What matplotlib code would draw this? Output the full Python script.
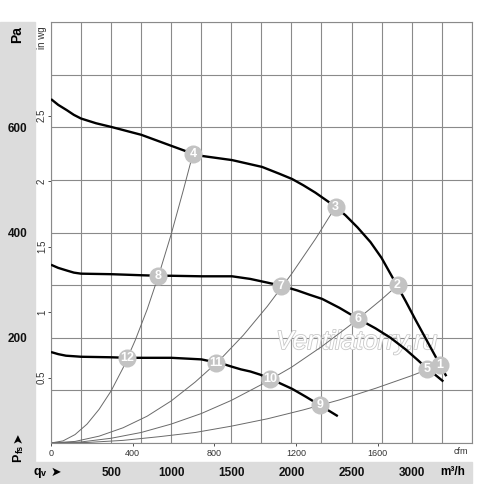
import matplotlib.pyplot as plt
import matplotlib.patheffects as pe
from matplotlib.patches import Rectangle

plt.rcParams["font.family"] = ["Liberation Sans", "DejaVu Sans"]

# fan curves: air flow in m3/h, static pressure in Pa
q_high = [0, 60, 131, 190, 250, 375, 502, 752, 1002, 1181, 1252, 1506, 1756, 1900, 2006,
          2100, 2200, 2300, 2367, 2450, 2550, 2658, 2750, 2875, 2950, 3033, 3100, 3200, 3289]
p_high = [654, 643, 633, 624, 617, 608, 601, 586, 565, 550, 546, 538, 525, 512, 502,
          490, 476, 460, 449, 433, 410, 382, 352, 301, 270, 234, 206, 164, 127]

q_mid = [0, 60, 131, 190, 250, 502, 752, 894, 1002, 1252, 1506, 1658, 1800, 1917, 2050,
         2150, 2256, 2400, 2556, 2700, 2825, 2950, 3050, 3131, 3200, 3264]
p_mid = [339, 333, 328, 324, 322, 321, 319, 318, 318, 317, 317, 312, 305, 299, 290,
         282, 274, 257, 236, 218, 200, 178, 158, 141, 129, 117]

q_low = [0, 60, 125, 190, 250, 502, 636, 1002, 1252, 1375, 1450, 1506, 1580, 1658, 1740,
         1825, 1920, 2006, 2120, 2236, 2386]
p_low = [173, 169, 166, 165, 164, 163, 162, 162, 159, 153, 149, 145, 140, 136, 130,
         122, 112, 103, 88, 72, 51]

# system curves (thin lines from the origin)
q_sys1 = [0, 100, 200, 300, 400, 500, 600, 700, 800, 900, 1000, 1100, 1181]
p_sys1 = [0, 4, 16, 36, 64, 99, 143, 195, 254, 322, 397, 480, 550]

q_sys2 = [0, 200, 400, 600, 800, 1000, 1200, 1400, 1600, 1800, 2000, 2200, 2367]
p_sys2 = [0, 3, 13, 29, 51, 80, 116, 157, 205, 260, 321, 388, 449]

q_sys3 = [0, 250, 500, 750, 1000, 1250, 1500, 1750, 2000, 2250, 2500, 2750, 2883]
p_sys3 = [0, 2, 9, 20, 36, 56, 81, 111, 144, 183, 226, 273, 300]

q_sys4 = [0, 300, 600, 900, 1200, 1500, 1800, 2100, 2400, 2700, 3000, 3236]
p_sys4 = [0, 1, 5, 12, 20, 32, 46, 63, 82, 104, 128, 149]

# operating points
pt_labels = ["1", "2", "3", "4", "5", "6", "7", "8", "9", "10", "11", "12"]
pt_q = [3236, 2883, 2367, 1181, 3131, 2556, 1917, 894, 2236, 1825, 1375, 636]
pt_p = [149, 300, 449, 550, 141, 236, 299, 318, 72, 122, 153, 162]

m3h_ticks = list(range(0, 3501, 250))
m3h_labels = ["", "", "500", "", "1000", "", "1500", "", "2000", "", "2500", "", "3000", "", ""]
pa_ticks = list(range(0, 801, 100))
pa_labels = ["", "", "200", "", "400", "", "600", "", ""]
cfm_ticks = [0, 400, 800, 1200, 1600]
inwg_ticks = [0.5, 1, 1.5, 2, 2.5]
inwg_labels = ["0.5", "1", "1.5", "2", "2.5"]

W, H = 500, 484


def fx(px):
    return px / W


def fy(py):
    return 1 - py / H


fig = plt.figure(figsize=(5, 4.84), dpi=100)
panel = "#dcdcdc"
# gray panels go under everything, axes tick labels included
fig.patches.append(Rectangle((0, fy(483)), fx(35), fy(22) - fy(483),
                             transform=fig.transFigure, color=panel, zorder=-1))
fig.patches.append(Rectangle((0, fy(483)), fx(472), fy(462) - fy(483),
                             transform=fig.transFigure, color=panel, zorder=-1))

ax = fig.add_axes([fx(51), fy(443), fx(471.7) - fx(51), fy(22.3) - fy(443)])
ax.set_xlim(0, 3500)
ax.set_ylim(0, 800)
grid_c = "#8a8a8a"
ax.grid(True, color=grid_c, lw=0.8)
ax.set_axisbelow(True)
for s in ax.spines.values():
    s.set_color(grid_c)
    s.set_linewidth(0.8)

ax.set_xticks(m3h_ticks, labels=m3h_labels)
ax.set_yticks(pa_ticks, labels=pa_labels)
ax.tick_params(axis="x", length=0, pad=17, labelsize=8.5, colors="#111")
ax.tick_params(axis="y", length=0, pad=17, labelsize=8.5, colors="#111")
for t in ax.get_xticklabels() + ax.get_yticklabels():
    t.set_fontweight("bold")

sec_x = ax.secondary_xaxis("bottom", functions=(lambda q: q / 1.699, lambda c: c * 1.699))
sec_x.set_xticks(cfm_ticks)
sec_x.tick_params(length=2, width=0.6, pad=2, labelsize=6.5, colors="#333")
sec_x.spines["bottom"].set_visible(False)

sec_y = ax.secondary_yaxis("left", functions=(lambda p: p / 249.09, lambda w: w * 249.09))
sec_y.set_yticks(inwg_ticks, labels=inwg_labels)
sec_y.tick_params(length=2, width=0.6, pad=1, labelsize=7, colors="#333")
sec_y.spines["left"].set_visible(False)
for t in sec_y.get_yticklabels():
    t.set_rotation(90)
    t.set_va("center")

ax.text(2542, 192, "Ventilatorry.ru", fontsize=19, style="italic", color="white",
        ha="center", va="center", zorder=1.5,
        path_effects=[pe.withStroke(linewidth=1.2, foreground="#c8c8c8")])

sys_c = "#6a6a6a"
for q, p in [(q_sys1, p_sys1), (q_sys2, p_sys2), (q_sys3, p_sys3), (q_sys4, p_sys4)]:
    ax.plot(q, p, color=sys_c, lw=0.7, zorder=2)

for q, p in [(q_high, p_high), (q_mid, p_mid), (q_low, p_low)]:
    ax.plot(q, p, color="black", lw=1.7, zorder=3, solid_capstyle="butt")

z = 4
for lab, q, p in reversed(list(zip(pt_labels, pt_q, pt_p))):
    ax.plot(q, p, "o", ms=13, mfc="#c3c3c3", mec="none", zorder=z)
    ax.text(q, p, lab, color="white", fontsize=9, fontweight="bold",
            ha="center", va="center", zorder=z + 0.5)
    z += 1

fig.text(fx(42), fy(38), "in wg", rotation=90, fontsize=7, color="#333",
         ha="center", va="center")
fig.text(fx(460.5), fy(452), "cfm", fontsize=6.5, color="#333", ha="center", va="center")
fig.text(fx(17), fy(35), "Pa", rotation=90, fontsize=10, fontweight="bold",
         ha="center", va="center")
fig.text(fx(453), fy(472), "m³/h", fontsize=8.5, fontweight="bold", ha="center", va="center")

fig.text(fx(33), fy(472), "q", fontsize=9, fontweight="bold", ha="left", va="center")
fig.text(fx(40.5), fy(474), "v", fontsize=6.5, fontweight="bold", ha="left", va="center")
fig.text(fx(56), fy(472), "➤", fontsize=9, ha="center", va="center",
         family=["DejaVu Sans"])

fig.text(fx(18), fy(458), "P", rotation=90, fontsize=9, fontweight="bold",
         ha="center", va="center")
fig.text(fx(20), fy(449), "fs", rotation=90, fontsize=6.5, fontweight="bold",
         ha="center", va="center")
fig.text(fx(18), fy(438), "➤", rotation=90, fontsize=9, ha="center", va="center",
         family=["DejaVu Sans"])

fig.savefig("out.png", dpi=100)
